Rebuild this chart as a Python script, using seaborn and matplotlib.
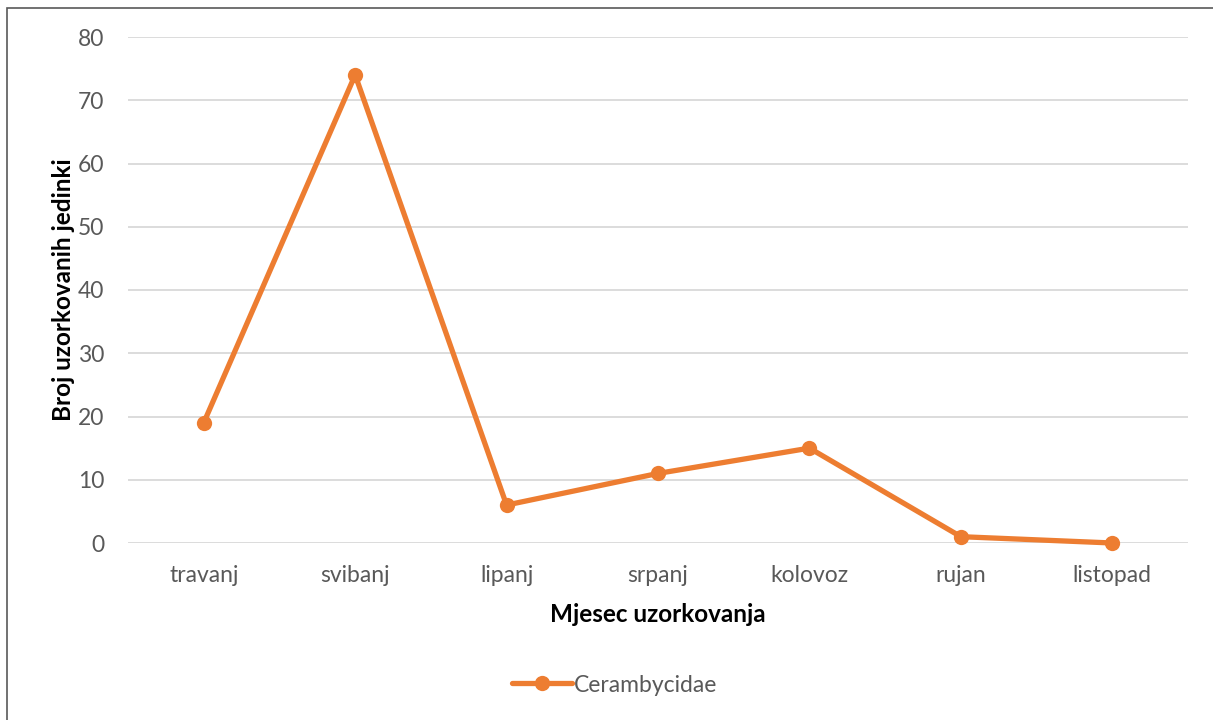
import matplotlib
matplotlib.use("Agg")
import matplotlib.pyplot as plt
import seaborn as sns
import pandas as pd
from matplotlib.patches import Rectangle

months = ["travanj", "svibanj", "lipanj", "srpanj", "kolovoz", "rujan", "listopad"]
counts = [19, 74, 6, 11, 15, 1, 0]
series_name = "Cerambycidae"
y_ticks = [0, 10, 20, 30, 40, 50, 60, 70, 80]

df = pd.DataFrame({"Mjesec": months, "Broj": counts, "Serija": series_name})

sns.set_theme(style="white")
plt.rcParams["font.family"] = ["Lato", "DejaVu Sans"]

fig = plt.figure(figsize=(12.13, 7.2), dpi=100)
ax = fig.add_axes([128/1213, 1-543/720, (1188-128)/1213, (543-37)/720])

sns.lineplot(data=df, x="Mjesec", y="Broj", hue="Serija", palette=["#ED7D31"],
             marker="o", markersize=11, markeredgewidth=0, linewidth=3.8,
             sort=False, ax=ax)
for ln in ax.lines:
    ln.set_clip_on(False)

ax.set_xlim(-0.5, len(months) - 0.5)
ax.set_ylim(0, 80)
ax.set_yticks(y_ticks)
ax.yaxis.grid(True, color="#D9D9D9", linewidth=1.3)
ax.set_axisbelow(True)
for s in ax.spines.values():
    s.set_visible(False)
ax.tick_params(axis="both", length=0, labelsize=16.5, colors="#595959")
ax.tick_params(axis="x", pad=16)
ax.tick_params(axis="y", pad=17)

ax.set_xlabel("Mjesec uzorkovanja", fontsize=17.5, fontweight="bold", color="black", labelpad=12)
ax.set_ylabel("Broj uzorkovanih jedinki", fontsize=17.5, fontweight="bold", color="black", labelpad=2)

leg = ax.legend(loc="center", bbox_to_anchor=(615/1213, 1-685/720), bbox_transform=fig.transFigure,
                frameon=False, fontsize=16.5, handlelength=2.6, handletextpad=0.1)
for t in leg.get_texts():
    t.set_color("#595959")

fig.patches.append(Rectangle((7/1213, -0.1), 1.2, 1 - 8/720 + 0.1, transform=fig.transFigure,
                             fill=False, edgecolor="#595959", linewidth=1.2))

fig.savefig("out.png", dpi=100)
